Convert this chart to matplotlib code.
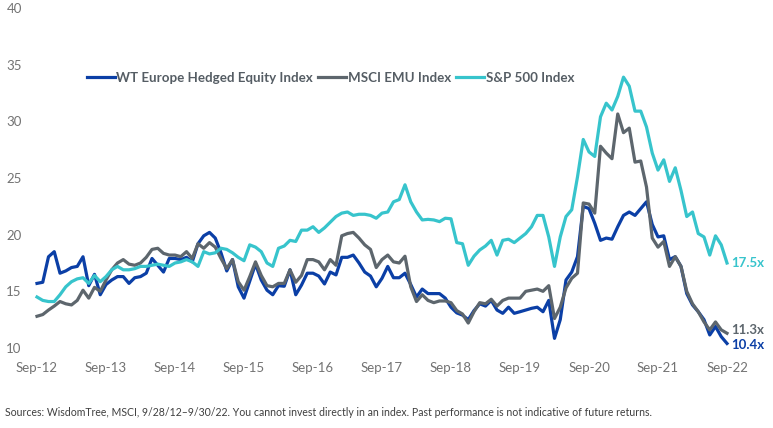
import matplotlib
matplotlib.use("Agg")
import matplotlib.pyplot as plt

plt.rcParams['font.family'] = ['Lato', 'DejaVu Sans']

# monthly forward P/E, Sep-12 .. Sep-22
wt_europe = [15.7, 15.8, 18.05, 18.5, 16.6, 16.8, 17.1, 17.2, 18.05, 15.5,
             16.5, 14.7, 15.6, 16.0, 16.3, 16.3, 15.7, 16.2, 16.3, 16.6,
             17.9, 17.3, 16.7, 17.9, 17.9, 17.8, 18.0, 17.6, 19.2, 19.9,
             20.2, 19.7, 18.4, 16.8, 17.8, 15.4, 14.4, 15.9, 17.4, 16.0,
             15.1, 14.7, 15.5, 15.45, 16.9, 14.7, 15.55, 16.6, 16.6, 16.35,
             15.65, 16.7, 16.45, 18.0, 18.0, 18.2, 17.5, 16.7, 16.35, 15.4,
             16.15, 17.2, 16.2, 16.2, 16.6, 15.6, 14.5, 15.2, 14.8, 14.8,
             14.8, 14.4, 13.6, 13.1, 12.9, 12.5, 13.3, 13.9, 13.7, 14.2,
             13.35, 13.06, 13.6, 13.06, 13.2, 13.35, 13.5, 13.6, 13.2, 14.2,
             10.85, 12.5, 16.0, 16.7, 18.06, 22.5, 22.3, 21.0, 19.5, 19.7,
             19.6, 20.7, 21.7, 22.0, 21.7, 22.3, 22.9, 20.9, 19.8, 19.9,
             17.8, 18.06, 17.2, 14.8, 13.8, 13.2, 12.5, 11.15, 11.9, 11.0,
             10.4]

msci_emu = [12.8, 12.95, 13.35, 13.7, 14.1, 13.9, 13.8, 14.2, 15.1, 14.4,
            15.35, 15.0, 16.0, 16.9, 17.5, 17.8, 17.4, 17.3, 17.5, 18.0,
            18.7, 18.8, 18.35, 18.2, 18.2, 18.06, 18.5, 17.9, 19.2, 18.8,
            19.3, 18.9, 17.9, 17.0, 17.8, 15.85, 15.1, 16.3, 17.6, 16.4,
            15.5, 15.4, 15.7, 15.7, 16.9, 15.8, 16.4, 17.8, 17.8, 17.6,
            16.9, 17.8, 17.3, 19.9, 20.1, 20.2, 19.7, 19.1, 18.7, 17.1,
            17.8, 18.2, 17.6, 17.5, 18.1, 15.4, 14.1, 14.7, 14.2, 14.0,
            14.15, 14.15, 14.0, 13.3, 13.0, 12.2, 13.2, 14.0, 13.9, 14.3,
            13.7, 14.2, 14.4, 14.4, 14.4, 15.0, 15.1, 15.2, 15.0, 15.5,
            12.6, 13.6, 15.3, 16.15, 16.6, 22.8, 22.7, 21.9, 27.8, 27.2,
            26.7, 30.65, 29.0, 29.4, 26.4, 26.5, 24.2, 19.7, 18.9, 19.4,
            17.2, 18.06, 17.2, 15.0, 13.9, 13.2, 12.3, 11.6, 12.3, 11.6,
            11.3]

sp500 = [14.5, 14.2, 14.1, 14.1, 14.7, 15.4, 15.85, 16.1, 16.2, 15.7,
         16.4, 15.85, 16.3, 16.9, 17.2, 16.9, 16.9, 17.0, 17.2, 17.2,
         17.3, 17.4, 17.3, 17.2, 17.5, 17.6, 17.8, 17.6, 17.2, 18.5,
         18.3, 18.4, 18.8, 18.7, 18.4, 18.0, 17.7, 19.1, 18.9, 18.5,
         17.5, 17.2, 18.8, 19.0, 19.5, 19.4, 20.4, 20.4, 20.7, 20.2,
         20.6, 21.1, 21.6, 21.9, 22.0, 21.7, 21.8, 21.8, 21.7, 21.45,
         21.9, 22.0, 22.9, 23.1, 24.4, 22.9, 22.0, 21.3, 21.35, 21.3,
         21.15, 21.45, 21.4, 19.3, 19.2, 17.3, 18.1, 18.65, 19.0, 19.5,
         18.2, 19.5, 19.6, 19.3, 19.7, 20.1, 20.7, 21.7, 21.7, 19.8,
         17.2, 19.8, 21.6, 22.2, 25.1, 28.4, 27.3, 26.9, 30.4, 31.6,
         31.0, 32.2, 33.9, 33.1, 30.9, 30.9, 29.5, 27.2, 25.7, 26.6,
         24.7, 25.9, 23.9, 21.6, 22.0, 20.1, 19.8, 18.2, 19.9, 19.1,
         17.5]

year_labels = ['Sep-12', 'Sep-13', 'Sep-14', 'Sep-15', 'Sep-16', 'Sep-17',
               'Sep-18', 'Sep-19', 'Sep-20', 'Sep-21', 'Sep-22']

blue = '#0b3fa6'
grey = '#5d666d'
cyan = '#37c4cc'
text_grey = '#555d64'

fig = plt.figure(figsize=(7.73, 4.28), dpi=100)
ax = fig.add_axes([37 / 773, 1 - 348 / 428, 690 / 773, 340 / 428])

months = list(range(len(wt_europe)))
ax.plot(months, wt_europe, color=blue, lw=2.3, clip_on=False,
        label='WT Europe Hedged Equity Index')
ax.plot(months, msci_emu, color=grey, lw=2.3, clip_on=False,
        label='MSCI EMU Index')
ax.plot(months, sp500, color=cyan, lw=2.3, clip_on=False,
        label='S&P 500 Index')

# end-of-series value labels
last = months[-1]
for vals, col, dy in [(sp500, cyan, 0), (msci_emu, grey, 2), (wt_europe, blue, -1)]:
    ax.annotate(f'{vals[-1]:.1f}x', (last, vals[-1]), xytext=(3, dy),
                textcoords='offset points', color=col, fontsize=9.5,
                fontweight='bold', va='center', ha='left', annotation_clip=False)

ax.set_xlim(0, 120)
ax.set_ylim(10, 40)
ax.set_xticks(range(0, 121, 12))
ax.set_xticklabels(year_labels)
ax.set_yticks(range(10, 41, 5))
ax.tick_params(length=0, labelsize=9.5, colors='#737373')
ax.tick_params(axis='x', pad=10)
ax.tick_params(axis='y', pad=11)
for s in ax.spines.values():
    s.set_visible(False)

leg = ax.legend(ncol=3, loc='center left', frameon=False,
                bbox_to_anchor=(87 / 773, 1 - 78 / 428),
                bbox_transform=fig.transFigure,
                handlelength=2.1, handletextpad=0.1, columnspacing=0.4,
                borderpad=0, borderaxespad=0, prop={'size': 9.6, 'weight': 'bold'})
for t in leg.get_texts():
    t.set_color(text_grey)

fig.text(5 / 773, 1 - 413 / 428,
         'Sources: WisdomTree, MSCI, 9/28/12\u20139/30/22. You cannot invest directly in an index. '
         'Past performance is not indicative of future returns.',
         fontsize=7.6, color='#3f3f3f', va='center', ha='left')

fig.savefig('out.png', dpi=100)
